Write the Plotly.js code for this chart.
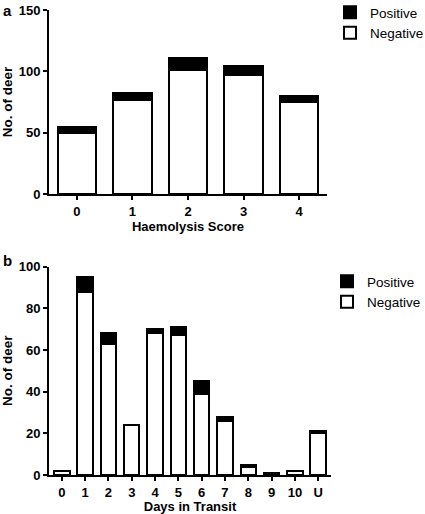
<!DOCTYPE html>
<html>
<head>
<meta charset="utf-8">
<script src="https://cdn.plot.ly/plotly-3.0.1.min.js"></script>
<style>html,body{margin:0;padding:0;background:#fff;}#chart{width:425px;height:514px;}</style>
</head>
<body>
<div id="chart"></div>
<script>
// Panel a: Haemolysis score
const scoreCats = ["0", "1", "2", "3", "4"];
const scoreNegative = [50, 77, 101, 97, 75];
const scorePositive = [5, 5, 10, 7, 5];

// Panel b: Days in transit
const daysCats = ["0", "1", "2", "3", "4", "5", "6", "7", "8", "9", "10", "U"];
const daysNegative = [2, 88, 63, 24, 68, 67, 39, 26, 4, 1, 2, 20];
const daysPositive = [0, 7, 5, 0, 2, 4, 6, 2, 1, 0, 0, 1];

const W = 425, H = 514;
const px = v => v / W;
const py = v => 1 - v / H;

const FONT = "Liberation Sans, Arial, sans-serif";
const lineStyle = {color: "#000", width: 2};

const traces = [
  {type: "bar", x: scoreCats, y: scoreNegative, name: "Negative", xaxis: "x", yaxis: "y",
   marker: {color: "#fff", line: lineStyle}, width: 0.69, legend: "legend", hoverinfo: "x+y+name"},
  {type: "bar", x: scoreCats, y: scorePositive, name: "Positive", xaxis: "x", yaxis: "y",
   marker: {color: "#000", line: lineStyle}, width: 0.69, legend: "legend", hoverinfo: "x+y+name"},
  {type: "bar", x: daysCats, y: daysNegative, name: "Negative", xaxis: "x2", yaxis: "y2",
   marker: {color: "#fff", line: lineStyle}, width: 0.66, legend: "legend2", hoverinfo: "x+y+name"},
  {type: "bar", x: daysCats, y: daysPositive, name: "Positive", xaxis: "x2", yaxis: "y2",
   marker: {color: "#000", line: lineStyle}, width: 0.66, legend: "legend2", hoverinfo: "x+y+name"}
];

const tickFont = {family: FONT, size: 13, color: "#000", weight: "bold"};
const titleFont = {family: FONT, size: 13, color: "#000", weight: "bold"};
const yTitleFont = {family: FONT, size: 13.5, color: "#000", weight: "bold"};

function xAxis(domain, range, anchor, title) {
  return {
    domain: domain, range: range, anchor: anchor, type: "category",
    showline: true, linecolor: "#000", linewidth: 2, mirror: false,
    ticks: "outside", ticklen: 4, tickwidth: 1.5, tickcolor: "#000",
    showgrid: false, zeroline: false, tickfont: tickFont,
    title: {text: title, font: titleFont, standoff: 3},
    automargin: false, fixedrange: true
  };
}
function yAxis(domain, range, dtick, anchor) {
  return {
    domain: domain, range: range, anchor: anchor, dtick: dtick, tick0: 0,
    showline: true, linecolor: "#000", linewidth: 2,
    ticks: "outside", ticklen: 4, tickwidth: 1.5, tickcolor: "#000",
    showgrid: false, zeroline: false, tickfont: tickFont,
    title: {text: "No. of deer", font: yTitleFont, standoff: 3},
    automargin: false, fixedrange: true
  };
}

const legendCommon = {
  font: {family: FONT, size: 13.5, color: "#000"},
  bgcolor: "rgba(0,0,0,0)", borderwidth: 0,
  xanchor: "left", yanchor: "top", tracegroupgap: 0, itemwidth: 30
};

const layout = {
  width: W, height: H,
  margin: {l: 0, r: 0, t: 0, b: 0, autoexpand: false},
  paper_bgcolor: "#fff", plot_bgcolor: "#fff",
  barmode: "stack", showlegend: true,
  xaxis: xAxis([px(49), px(327)], [-0.5, 4.5], "y", "Haemolysis Score"),
  yaxis: yAxis([py(194), py(10)], [0, 150], 50, "x"),
  xaxis2: xAxis([px(49), px(331)], [-0.55, 11.55], "y2", "Days in Transit"),
  yaxis2: yAxis([py(475), py(266.7)], [0, 100], 20, "x2"),
  legend: Object.assign({x: px(330), y: py(-3)}, legendCommon),
  legend2: Object.assign({x: px(327), y: py(266)}, legendCommon),
  annotations: [
    {text: "<b>a</b>", xref: "paper", yref: "paper", x: px(1), y: py(0), xanchor: "left", yanchor: "top",
     showarrow: false, font: {family: FONT, size: 15, color: "#000"}},
    {text: "<b>b</b>", xref: "paper", yref: "paper", x: px(1), y: py(250), xanchor: "left", yanchor: "top",
     showarrow: false, font: {family: FONT, size: 15, color: "#000"}}
  ]
};

Plotly.newPlot("chart", traces, layout, {displayModeBar: false});
</script>
</body>
</html>
